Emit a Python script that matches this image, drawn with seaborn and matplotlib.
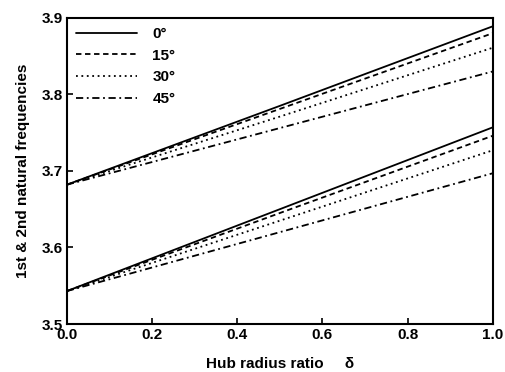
import matplotlib
matplotlib.use("Agg")
import matplotlib.pyplot as plt
import seaborn as sns
import pandas as pd

sns.set_style("ticks")
plt.rcParams['font.family'] = ['Liberation Sans', 'DejaVu Sans']
plt.rcParams['text.color'] = 'black'
plt.rcParams['axes.labelcolor'] = 'black'
plt.rcParams['xtick.color'] = 'black'
plt.rcParams['ytick.color'] = 'black'
plt.rcParams['axes.edgecolor'] = 'black'

delta = [0.0, 0.5, 1.0]
angles = ["0°", "15°", "30°", "45°"]
# 1st natural frequency (upper group)
f1_0 = [3.682, 3.785, 3.889]
f1_15 = [3.682, 3.781, 3.880]
f1_30 = [3.682, 3.771, 3.861]
f1_45 = [3.682, 3.756, 3.830]
# 2nd (lower group)
f2_0 = [3.543, 3.650, 3.757]
f2_15 = [3.543, 3.645, 3.746]
f2_30 = [3.543, 3.635, 3.727]
f2_45 = [3.543, 3.620, 3.697]

upper = [f1_0, f1_15, f1_30, f1_45]
lower = [f2_0, f2_15, f2_30, f2_45]
styles = ['-', (0, (3, 2)), (0, (1, 2)), (0, (4, 2, 1, 2))]

fig = plt.figure(figsize=(5.06, 3.72), dpi=100)
ax = fig.add_axes([0.132, 0.129, 0.842, 0.823])

for ang, u, l, ls in zip(angles, upper, lower, styles):
    sns.lineplot(x=delta, y=u, ax=ax, color='black', linestyle=ls, lw=1.3, label=ang)
    sns.lineplot(x=delta, y=l, ax=ax, color='black', linestyle=ls, lw=1.3)

ax.set_xlim(0, 1.0)
ax.set_ylim(3.5, 3.9)
ax.set_xticks([0.0, 0.2, 0.4, 0.6, 0.8, 1.0])
ax.set_xticklabels(["0.0", "0.2", "0.4", "0.6", "0.8", "1.0"])
ax.set_yticks([3.5, 3.6, 3.7, 3.8, 3.9])
ax.set_yticklabels(["3.5", "3.6", "3.7", "3.8", "3.9"])
ax.tick_params(direction='in', length=4, width=1.2, labelsize=11, pad=3, colors='black')
for lab in ax.get_xticklabels() + ax.get_yticklabels():
    lab.set_fontweight('bold')
for sp in ax.spines.values():
    sp.set_linewidth(1.5)
    sp.set_visible(True)
    sp.set_color('black')

ax.set_xlabel("Hub radius ratio     δ", fontsize=11, fontweight='bold', labelpad=11, color='black')
ax.set_ylabel("1st & 2nd natural frequencies", fontsize=11, fontweight='bold', labelpad=8, color='black')

leg = ax.legend(loc='upper left', frameon=False, handlelength=4.0, fontsize=11,
                labelspacing=0.5, borderaxespad=0.2, borderpad=0.4, handletextpad=1.0)
for t in leg.get_texts():
    t.set_fontweight('bold')
    t.set_color('black')

fig.savefig("out.png", dpi=100)
